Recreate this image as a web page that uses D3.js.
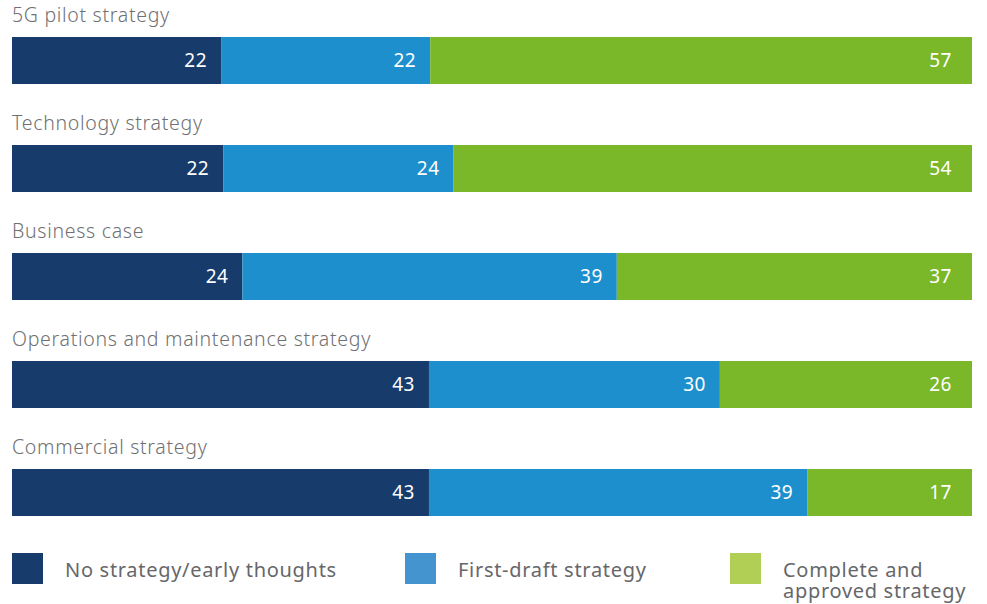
<!DOCTYPE html>
<html><head><meta charset="utf-8">
<script src="https://cdn.jsdelivr.net/npm/d3@7"></script>
<style>body{margin:0;background:#fff}svg{display:block}</style>
</head><body>
<svg id="c" width="987" height="604"></svg>
<script>
const categories = ["5G pilot strategy","Technology strategy","Business case","Operations and maintenance strategy","Commercial strategy"];
const noStrategy = [22,22,24,43,43];
const firstDraft = [22,24,39,30,39];
const complete = [57,54,37,26,17];
const seriesNames = ["No strategy/early thoughts","First-draft strategy","Complete and approved strategy"];
const barColors = ["#173b6b","#1e8fcd","#7ab829"];
const legendColors = ["#173b6b","#4394cf","#b1cf55"];

const svg = d3.select("#c");
const x = d3.scaleLinear().domain([0,1]).range([12,972]);
const y = d3.scaleBand().domain(categories).range([0,540]).paddingInner(0).paddingOuter(0);
const series = [noStrategy, firstDraft, complete];

categories.forEach((cat,i)=>{
  const vals = series.map(s=>s[i]);
  const total = d3.sum(vals);
  const top = y(cat);
  svg.append("text").attr("x",12).attr("y",top+22).text(cat)
    .attr("font-family","'Noto Sans', sans-serif").attr("font-weight",300)
    .attr("font-size",19.5).attr("letter-spacing",0.7).attr("fill","#6f7073");
  let acc = 0;
  vals.forEach((v,j)=>{
    const x0 = x(acc/total), x1 = x((acc+v)/total);
    svg.append("rect").attr("x",x0).attr("y",top+37).attr("width",x1-x0).attr("height",47).attr("fill",barColors[j]);
    svg.append("text").attr("x",x1-(j===2?20:14)).attr("y",top+67).attr("text-anchor","end")
      .attr("font-family","'Noto Sans', sans-serif").attr("font-size",19).attr("letter-spacing",0.5).attr("fill","#fff").text(v);
    acc += v;
  });
});

const legX = [12,405,730];
const legLines = [["No strategy/early thoughts"],["First-draft strategy"],["Complete and","approved strategy"]];
seriesNames.forEach((n,j)=>{
  svg.append("rect").attr("x",legX[j]).attr("y",553).attr("width",31).attr("height",31).attr("fill",legendColors[j]);
  legLines[j].forEach((l,k)=>svg.append("text").attr("x",legX[j]+53).attr("y",577+k*21)
    .attr("font-family","'Noto Sans', sans-serif").attr("font-weight",400)
    .attr("font-size",20).attr("letter-spacing",0.7).attr("fill","#66676a").text(l));
});
</script>
</body></html>
